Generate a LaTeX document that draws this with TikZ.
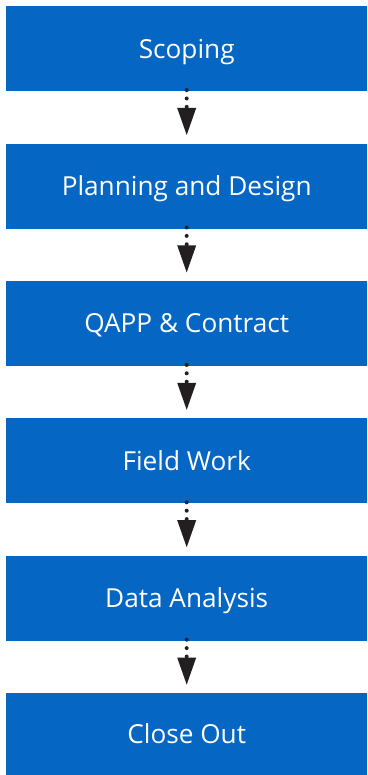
\documentclass[tikz,border=0pt]{standalone}
\usepackage{fontspec}
\setmainfont{Open Sans}
\usetikzlibrary{arrows.meta}
\definecolor{boxblue}{HTML}{0566C4}
\definecolor{arrowblack}{HTML}{231F20}
\begin{document}
\begin{tikzpicture}[x=1pt,y=-1pt,
  stepbox/.style={fill=boxblue, draw=none, minimum width=361pt, minimum height=85pt,
    inner sep=0pt, text=white, font=\fontsize{26.2}{30}\selectfont,
    text height=18.7pt, text depth=0pt, anchor=north west},
  flow/.style={arrowblack, line width=4pt, line cap=round, dash pattern=on 0pt off 8.4pt,
    shorten <=-1.3pt, shorten >=8.4pt,
    -{Triangle[width=19pt,length=27pt,line width=0pt]}}
]
\useasboundingbox (0,0) rectangle (367,775);
\node[stepbox] (s1) at (6,6) {Scoping};
\node[stepbox] (s2) at (6,143.4) {Planning and Design};
\node[stepbox] (s3) at (6,280.8) {QAPP \& Contract};
\node[stepbox] (s4) at (6,418.2) {Field Work};
\node[stepbox] (s5) at (6,555.6) {Data Analysis};
\node[stepbox, minimum height=82pt] (s6) at (6,693) {Close Out};
\foreach \a/\b in {s1/s2,s2/s3,s3/s4,s4/s5,s5/s6}
  \draw[flow] (\a.south) -- (\b.north);
\end{tikzpicture}
\end{document}
